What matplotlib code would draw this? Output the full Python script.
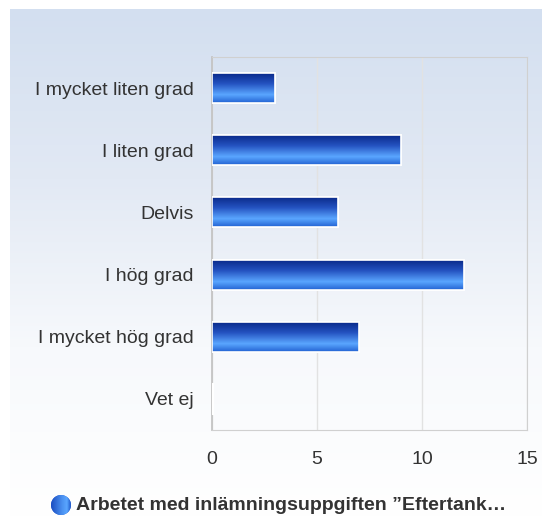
import matplotlib.pyplot as plt
import numpy as np
from matplotlib.colors import LinearSegmentedColormap
from matplotlib.patches import Circle

# Data
categories = ['I mycket liten grad', 'I liten grad', 'Delvis', 'I hög grad',
              'I mycket hög grad', 'Vet ej']
values = [3, 9, 6, 12, 7, 0]
xticks = [0, 5, 10, 15]
legend_label = 'Arbetet med inlämningsuppgiften ”Eftertank…'

plt.rcParams['font.family'] = ['Liberation Sans', 'DejaVu Sans']

W, H = 542, 517
fig = plt.figure(figsize=(W / 100, H / 100), dpi=100)
fig.patch.set_facecolor('white')

# Bakgrund med gradient
bg = fig.add_axes([10 / W, 0, 1 - 10 / W, 1 - 9 / H])
bg.axis('off')
bg_cmap = LinearSegmentedColormap.from_list('bg', ['#d3dff0', '#e2e9f4', '#f7f9fc', '#ffffff'])
grad = np.linspace(0, 1, 256).reshape(-1, 1)
bg.imshow(grad, aspect='auto', cmap=bg_cmap, extent=[0, 1, 0, 1], origin='upper')
bg.set_xlim(0, 1)
bg.set_ylim(0, 1)

# Plotområde
left, right, top, bottom = 212, 527, 57, 430
ax = fig.add_axes([left / W, 1 - bottom / H, (right - left) / W, (bottom - top) / H])
ax.patch.set_alpha(0)

n = len(categories)
y = np.arange(n)
ax.set_ylim(n - 0.5, -0.5)
ax.set_xlim(0, 15)

bar_cmap = LinearSegmentedColormap.from_list(
    'bar', [(0, '#0a2a8a'), (0.35, '#2452c0'), (0.72, '#5aa6ff'), (1, '#2262d2')])
bar_h = 0.48
bars = ax.barh(y, values, height=bar_h, color='#3a78e0', edgecolor='white',
               linewidth=1.2, zorder=3)
for bar, v in zip(bars, values):
    if v <= 0:
        continue
    x0, y0 = bar.get_x(), bar.get_y()
    w, h = bar.get_width(), bar.get_height()
    im = ax.imshow(grad, aspect='auto', cmap=bar_cmap, extent=[x0, x0 + w, y0 + h, y0],
                   origin='upper', zorder=3.5)
    im.set_clip_path(bar)
    # vit kantlinje ovanpå
    ax.add_patch(plt.Rectangle((x0, y0), w, h, fill=False, edgecolor='white',
                               linewidth=1.2, zorder=4))
# Vet ej: tunn vit linje
ax.plot([0.03, 0.03], [5 - bar_h / 2, 5 + bar_h / 2], color='white', lw=1.5, zorder=4)

ax.set_xticks(xticks)
ax.set_yticks(y)
ax.set_yticklabels(categories)
ax.tick_params(axis='both', length=0, labelsize=14, colors='#333333')
ax.tick_params(axis='x', pad=15)
ax.tick_params(axis='y', pad=13)
ax.grid(axis='x', color='#e2e2e2', linewidth=1, zorder=1)
ax.set_axisbelow(True)
for s in ['top', 'right', 'bottom']:
    ax.spines[s].set_color('#d0d0d0')
ax.spines['left'].set_color('#c4c4c4')
ax.spines['left'].set_linewidth(1.3)

# Legend
lg = fig.add_axes([0, 0, 1, 1])
lg.axis('off')
lg.set_xlim(0, W)
lg.set_ylim(H, 0)
circ = Circle((61, 505), 10, facecolor='#2a62d6', edgecolor='none', zorder=5)
lg.add_patch(circ)
leg_cmap = LinearSegmentedColormap.from_list(
    'leg', [(0, '#1a4cc0'), (0.55, '#4a90f0'), (0.8, '#5aa6ff'), (1, '#1e56c8')])
cim = lg.imshow(np.linspace(0, 1, 256).reshape(1, -1), aspect='auto', cmap=leg_cmap,
                extent=[51, 71, 515, 495], zorder=6)
cim.set_clip_path(circ)
lg.set_xlim(0, W)
lg.set_ylim(H, 0)
lg.text(76, 505, legend_label, fontsize=14, fontweight='bold', color='#333333',
        va='center', ha='left')

plt.savefig('out.png', dpi=100)
